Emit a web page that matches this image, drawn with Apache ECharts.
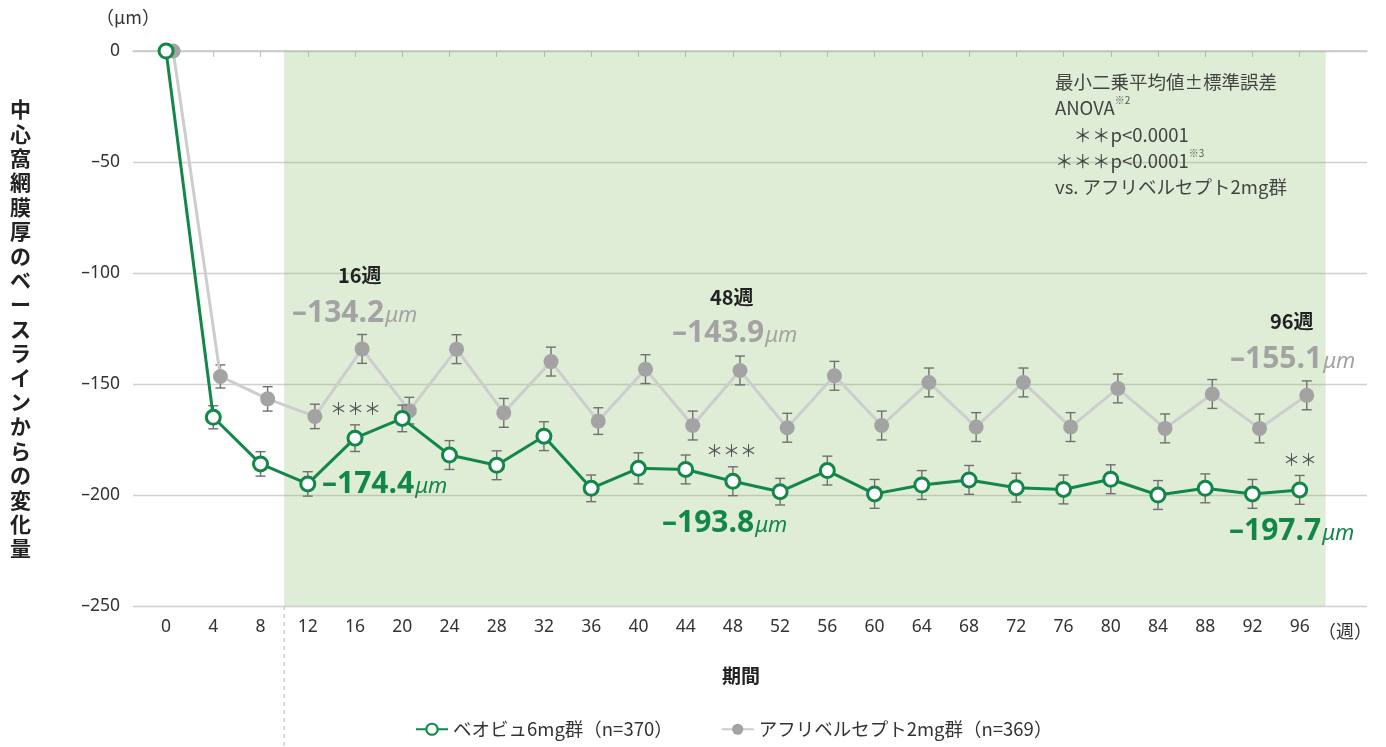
<!DOCTYPE html>
<html><head><meta charset="utf-8">
<script src="https://cdn.jsdelivr.net/npm/echarts@6/dist/echarts.min.js"></script>
<style>html,body{margin:0;padding:0;background:#fff}#c{width:1386px;height:747px}</style>
</head><body><div id="c"></div>
<script>
const weeks = [0,4,8,12,16,20,24,28,32,36,40,44,48,52,56,60,64,68,72,76,80,84,88,92,96];
const pevoMean = [0,-165,-186,-195,-174.4,-165.5,-182,-186.6,-173.5,-197,-188,-188.5,-193.8,-198.5,-189,-199.5,-195.5,-193.2,-196.7,-197.5,-192.9,-200,-197,-199.5,-197.7];
const afliMean = [0,-146.6,-156.7,-164.6,-134.2,-162,-134.3,-163,-139.9,-166.7,-143.3,-168.7,-143.9,-169.7,-146.3,-168.7,-149.3,-169.4,-149.3,-169.4,-152,-170,-154.5,-170,-155.1];
const pevoSE = [0,5.2,5.5,5.5,6,6,6.5,6.5,6.5,6,7,6.5,6.5,6,6.5,6.5,6.5,6.5,6.5,6.5,6.5,6.5,6.5,6.5,6.5];
const afliSE = [0,5.2,5.5,5.5,6.5,6,6.5,6.5,6.5,6,6.5,6.5,6.5,6.5,6.5,6.5,6.5,6.5,6.5,6.5,6.5,6.5,6.5,6.5,6.5];
const yTicks = [0,-50,-100,-150,-200,-250];
const seriesNames = ['ベオビュ6mg群（n=370）','アフリベルセプト2mg群（n=369）'];
const shadeRange = [10, 98.2];

const JP = '"Noto Sans CJK JP","Noto Sans",sans-serif';
const GREEN = '#13864a', GRAY = '#a3a3a3', GRAYLINE = '#cdcdcd';
const grayShift = 0.6;

const pevoPts = weeks.map((w,i)=>[w, pevoMean[i]]);
const afliPts = weeks.map((w,i)=>[w+grayShift, afliMean[i]]);
const pevoErr = weeks.map((w,i)=>[w, pevoMean[i]-pevoSE[i], pevoMean[i]+pevoSE[i]]).filter((d,i)=>pevoSE[i]>0);
const afliErr = weeks.map((w,i)=>[w+grayShift, afliMean[i]-afliSE[i], afliMean[i]+afliSE[i]]).filter((d,i)=>afliSE[i]>0);

function errRender(params, api){
  const x = api.value(0);
  const a = api.coord([x, api.value(1)]), b = api.coord([x, api.value(2)]);
  const w = 5, st = {stroke:'#707070', lineWidth:1.4};
  return {type:'group', children:[
    {type:'line', shape:{x1:a[0],y1:a[1],x2:b[0],y2:b[1]}, style:st},
    {type:'line', shape:{x1:a[0]-w,y1:a[1],x2:a[0]+w,y2:a[1]}, style:st},
    {type:'line', shape:{x1:b[0]-w,y1:b[1],x2:b[0]+w,y2:b[1]}, style:st}
  ]};
}

const chart = echarts.init(document.getElementById('c'));
function txt(x,y,t,opt){
  return {type:'text', left:x, top:y, z:20, style:Object.assign({text:t, fontFamily:JP, fontSize:17, fill:'#333'},opt||{})};
}
function valTextStyle(num,color){
  return {text:'{n|–'+num+'}{u|μm}', verticalAlign:'middle',
    rich:{n:{fontFamily:'"Open Sans","Noto Sans",sans-serif',fontWeight:'bold',fontSize:30,fill:color},
          u:{fontFamily:'"Noto Sans",sans-serif',fontStyle:'italic',fontSize:22,fill:color,padding:[5,0,0,1]}}};
}
const graphics = [
  txt(96,8,'（μm）',{fontSize:18}),
  {type:'text', left:10, top:97, z:20, style:{text:'中心窩網膜厚のベースラインからの変化量'.split('').join('\n'), fontFamily:JP, fontWeight:'bold', fontSize:21, lineHeight:24.4, fill:'#222', align:'left'}},
  txt(1318,622,'（週）',{fontSize:18}),
  txt(722,666,'期間',{fontWeight:'bold',fontSize:19,fill:'#222'}),
  txt(338,265,'16週',{fontWeight:'bold',fontSize:20,fill:'#222'}),
  txt(710,287,'48週',{fontWeight:'bold',fontSize:20,fill:'#222'}),
  txt(1270,311,'96週',{fontWeight:'bold',fontSize:20,fill:'#222'}),
  {type:'text', left:292, top:298, z:20, style:valTextStyle('134.2',GRAY)},
  {type:'text', left:672, top:318, z:20, style:valTextStyle('143.9',GRAY)},
  {type:'text', left:1230, top:344, z:20, style:valTextStyle('155.1',GRAY)},
  {type:'text', left:322, top:469, z:20, style:valTextStyle('174.4',GREEN)},
  {type:'text', left:662, top:508, z:20, style:valTextStyle('193.8',GREEN)},
  {type:'text', left:1229, top:516, z:20, style:valTextStyle('197.7',GREEN)},
  txt(330,400,'＊＊＊',{fontSize:17,fill:'#555'}),
  txt(706,442,'＊＊＊',{fontSize:17,fill:'#555'}),
  txt(1283,451,'＊＊',{fontSize:17,fill:'#555'}),
  {type:'text', left:1055, top:69, z:20, style:{
    text:'最小二乗平均値±標準誤差\nANOVA{s|※2}\n　＊＊p<0.0001\n＊＊＊p<0.0001{s|※3}\nvs. アフリベルセプト2mg群',
    fontFamily:JP, fontSize:18.5, lineHeight:26.3, fill:'#444',
    rich:{s:{fontSize:10, verticalAlign:'top', fill:'#555', fontFamily:JP, padding:[0,0,9,0]}}}}
];

const option = {
  animation:false,
  backgroundColor:'#fff',
  grid:{left:133, right:19, top:51, bottom:141},
  xAxis:{type:'value', min:-2.8, max:101.7,
    axisLine:{show:true, lineStyle:{color:'#c8c8c8', width:1.5}},
    axisTick:{show:true, customValues:weeks, length:6, lineStyle:{color:'#bdbdbd'}},
    axisLabel:{customValues:weeks, fontFamily:'"Noto Sans",sans-serif', fontSize:17.5, color:'#333', margin:12},
    splitLine:{show:false}},
  yAxis:{type:'value', min:-250, max:0, interval:50,
    axisLine:{show:false}, axisTick:{show:false},
    axisLabel:{fontFamily:'"Noto Sans",sans-serif', fontSize:17.5, color:'#333', margin:13,
      formatter:v=> v===0?'0':'–'+Math.abs(v)},
    splitLine:{lineStyle:{color:'#d0d0d0', width:1.3}}},
  legend:{left:410, top:715, itemWidth:32, itemHeight:14, itemGap:48,
    textStyle:{fontFamily:JP, fontSize:18.5, color:'#333'},
    data:[{name:seriesNames[0]},{name:seriesNames[1]}]},
  graphic:graphics,
  series:[
    {type:'line', name:'shade', data:[], z:-1, silent:true,
     markArea:{silent:true, itemStyle:{color:'rgba(140,190,110,0.28)'},
       data:[[{xAxis:shadeRange[0], yAxis:0},{xAxis:shadeRange[1], yAxis:-250}]]}},
    {type:'custom', name:'afliErr', renderItem:errRender, data:afliErr, z:2, silent:true},
    {type:'line', name:seriesNames[1], data:afliPts, z:3, symbol:'circle', symbolSize:15,
     lineStyle:{color:GRAYLINE, width:3}, itemStyle:{color:GRAY, borderColor:GRAY, borderWidth:0}},
    {type:'custom', name:'pevoErr', renderItem:errRender, data:pevoErr, z:4, silent:true},
    {type:'line', name:seriesNames[0], data:pevoPts, z:5, symbol:'circle', symbolSize:14,
     lineStyle:{color:GREEN, width:3}, itemStyle:{color:'#fff', borderColor:GREEN, borderWidth:3}}
  ]
};
chart.setOption(option);
const px = chart.convertToPixel({xAxisIndex:0}, shadeRange[0]);
const bottomY = chart.convertToPixel({yAxisIndex:0}, -250);
chart.setOption({graphic:graphics.concat([{type:'line', z:1, shape:{x1:px,y1:bottomY,x2:px,y2:747}, style:{stroke:'#c4c4c4', lineWidth:1.2, lineDash:[4,4]}}])});
</script></body></html>
